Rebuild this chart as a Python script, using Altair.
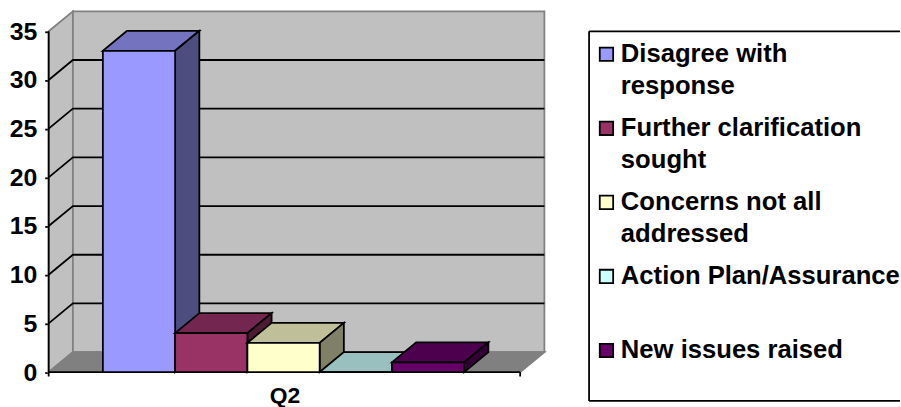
import altair as alt
import pandas as pd

# Survey responses for question Q2
series = ["Disagree with|response", "Further clarification|sought",
          "Concerns not all|addressed", "Action Plan/Assurance", "New issues raised"]
values = [33, 4, 3, 0, 1]
front_colors = ["#9999FF", "#993366", "#FFFFCC", "#CCFFFF", "#660066"]
top_colors = ["#7373BF", "#732650", "#BFBF99", "#99BFBF", "#4D004D"]
side_colors = ["#4D4D80", "#4D1A33", "#808066", "#668080", "#330033"]
category = "Q2"
ticks = [0, 5, 10, 15, 20, 25, 30, 35]

# Pseudo-3D projection, in data units of the two scales
DEPTH_X = 0.335      # slots
DEPTH_Y = 2.055      # value units
X_MAX = 6.86         # slots across the plot
FIRST_BAR = 0.75     # slot position of the first bar's left edge
Y_MIN, Y_MAX = -3.1, 37.3
TOP = ticks[-1]

FONT = "Liberation Sans"
INK = "#000000"
WALL = "#C0C0C0"
EDGE = "#808080"
SW = 1.8

value_axis = alt.Axis(
    values=ticks, title=None, grid=False, domain=False, tickColor=INK, tickSize=4,
    tickWidth=SW, labelFont=FONT, labelFontSize=25, labelFontWeight="bold",
    labelColor=INK, labelPadding=8, minExtent=49, maxExtent=49,
)
x_scale = alt.Scale(domain=[0, X_MAX], nice=False, zero=False)
y_scale = alt.Scale(domain=[Y_MIN, Y_MAX], nice=False, zero=False)
X = alt.X("x:Q", scale=x_scale, axis=None)
Y = alt.Y("y:Q", scale=y_scale, axis=value_axis)


def side_face(df_left, df_bottom, df_top, **style):
    """Parallelogram receding from a vertical front edge."""
    data = pd.DataFrame({"x": [df_left, df_left + DEPTH_X],
                         "y": [df_top, df_top + DEPTH_Y],
                         "y2": [df_bottom, df_bottom + DEPTH_Y]})
    return alt.Chart(data).mark_area(orient="vertical", **style).encode(x=X, y=Y, y2="y2:Q")


def flat_face(left, right, level, **style):
    """Parallelogram receding from a horizontal front edge."""
    data = pd.DataFrame({"y": [level, level + DEPTH_Y],
                         "x": [left, left + DEPTH_X],
                         "x2": [right, right + DEPTH_X]})
    return alt.Chart(data).mark_area(orient="horizontal", **style).encode(x=X, x2="x2:Q", y=Y)


# Walls and floor
floor_right = X_MAX - DEPTH_X
layers = [
    side_face(0, 0, TOP, fill=WALL, stroke=EDGE, strokeWidth=SW),
    alt.Chart(pd.DataFrame({"x": [DEPTH_X], "x2": [X_MAX], "y": [DEPTH_Y], "y2": [TOP + DEPTH_Y]}))
    .mark_rect(fill=WALL, stroke=EDGE, strokeWidth=SW).encode(x=X, x2="x2:Q", y=Y, y2="y2:Q"),
    flat_face(0, floor_right, 0, fill=EDGE, stroke=EDGE, strokeWidth=SW),
]

# Gridlines run up the side wall and across the back wall
grid_rows = []
for t in ticks[1:-1]:
    grid_rows += [{"t": t, "i": 0, "x": 0, "y": t},
                  {"t": t, "i": 1, "x": DEPTH_X, "y": t + DEPTH_Y},
                  {"t": t, "i": 2, "x": X_MAX, "y": t + DEPTH_Y}]
layers.append(
    alt.Chart(pd.DataFrame(grid_rows)).mark_line(color=INK, strokeWidth=SW)
    .encode(x=X, y=Y, detail="t:N", order="i:Q")
)

# Front axis lines and category ticks
layers.append(
    alt.Chart(pd.DataFrame({"x": [0], "y": [0], "y2": [TOP]}))
    .mark_rule(color=INK, strokeWidth=SW).encode(x=X, y=Y, y2="y2:Q")
)
layers.append(
    alt.Chart(pd.DataFrame({"x": [0], "x2": [floor_right], "y": [0]}))
    .mark_rule(color=INK, strokeWidth=SW).encode(x=X, x2="x2:Q", y=Y)
)
layers.append(
    alt.Chart(pd.DataFrame({"x": [0, floor_right], "y": [0, 0], "y2": [-0.45, -0.45]}))
    .mark_rule(color=INK, strokeWidth=SW).encode(x=X, y=Y, y2="y2:Q")
)

# Bars, back to front, so each one overlaps the side of the last
for i, v in enumerate(values):
    left, right = FIRST_BAR + i, FIRST_BAR + i + 1
    layers.append(flat_face(left, right, v, fill=top_colors[i], stroke=INK, strokeWidth=SW))
    layers.append(side_face(right, 0, v, fill=side_colors[i], stroke=INK, strokeWidth=SW))
    layers.append(
        alt.Chart(pd.DataFrame({"x": [left], "x2": [right], "y": [0], "y2": [v]}))
        .mark_rect(fill=front_colors[i], stroke=INK, strokeWidth=SW)
        .encode(x=X, x2="x2:Q", y=Y, y2="y2:Q")
    )

# Category label under the floor
layers.append(
    alt.Chart(pd.DataFrame({"x": [3.27], "y": [-2.42], "label": [category]}))
    .mark_text(font=FONT, fontSize=23, fontWeight="bold", color=INK, align="center", baseline="middle")
    .encode(x=X, y=Y, text="label:N")
)

plot = alt.layer(*layers).properties(width=499, height=396)

# Legend panel: one row per series, first text line level with its swatch
ROW_TOP, ROW_BOTTOM = -0.612, 4.699
BOX_TOP, BOX_BOTTOM = -0.31, 4.68
row_scale = alt.Scale(domain=[ROW_BOTTOM, ROW_TOP], nice=False, zero=False)
pos_scale = alt.Scale(domain=[0, 313], nice=False, zero=False)
LX = alt.X("px:Q", scale=pos_scale, axis=None)
LY = alt.Y("row:Q", scale=row_scale, axis=None)

legend_rows = pd.DataFrame({
    "row": list(range(len(series))),
    "label": series,
    "color": front_colors,
    "px": [17.5] * len(series),
    "tx": [32] * len(series),
})

frame = pd.DataFrame({"px": [0, 0, 0], "px2": [0, 313, 313], "row": [BOX_TOP, BOX_TOP, BOX_BOTTOM],
                      "row2": [BOX_BOTTOM, BOX_TOP, BOX_BOTTOM]})
legend_panel = alt.layer(
    alt.Chart(frame).mark_rule(color=INK, strokeWidth=SW)
    .encode(x=LX, x2="px2:Q", y=LY, y2="row2:Q"),
    alt.Chart(legend_rows).mark_point(shape="square", filled=True, size=182, stroke=INK, strokeWidth=SW, opacity=1)
    .encode(x=LX, y=LY, fill=alt.Fill("color:N", scale=None)),
    alt.Chart(legend_rows).mark_text(font=FONT, fontSize=25.8, fontWeight="bold", color=INK, align="left",
                                     baseline="middle", lineHeight=32, lineBreak="|")
    .encode(x=alt.X("tx:Q", scale=pos_scale, axis=None), y=LY, text="label:N"),
).properties(width=313, height=396)

chart = (
    alt.hconcat(plot, legend_panel, spacing=40)
    .properties(padding={"left": 0, "top": 5.6, "right": 0, "bottom": 5}, background="#FFFFFF")
    .configure_view(stroke=None)
)
chart.save("out.html", embed_options={"renderer": "svg", "actions": False})
